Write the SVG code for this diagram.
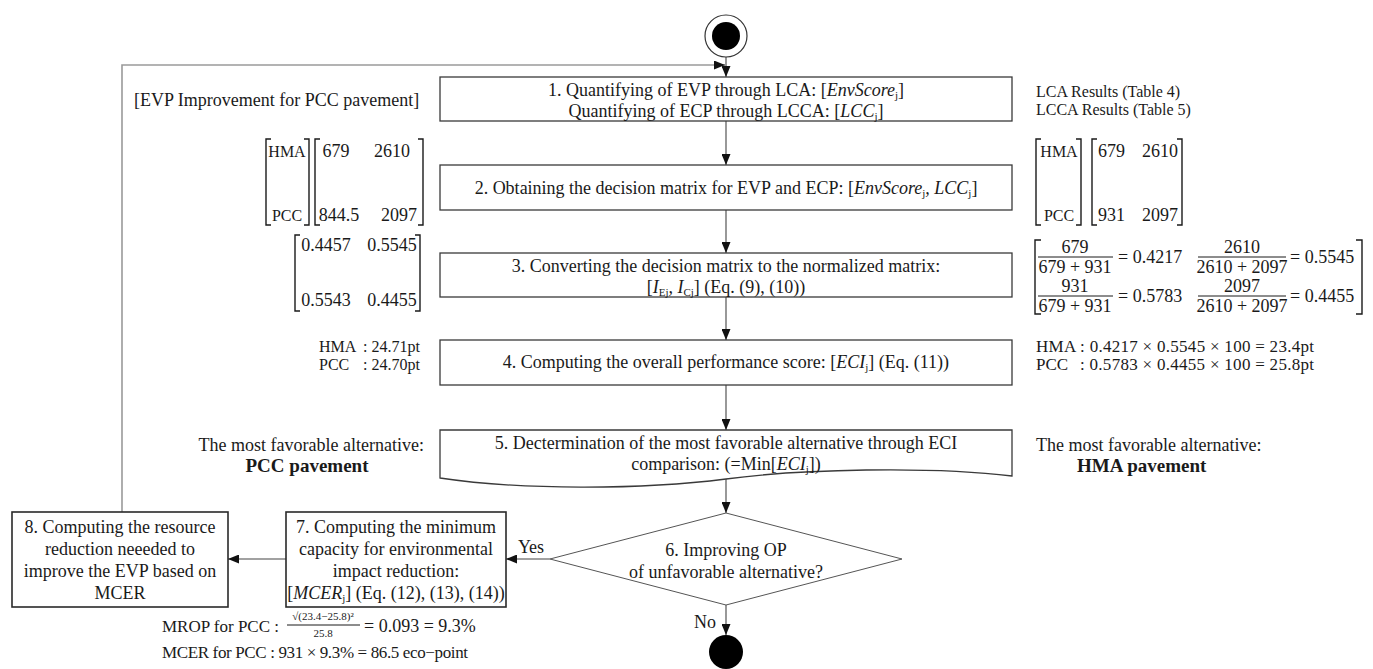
<svg xmlns="http://www.w3.org/2000/svg" width="1373" height="669" viewBox="0 0 1373 669">
<defs>
<marker id="ah" markerUnits="userSpaceOnUse" markerWidth="11" markerHeight="9" refX="11" refY="4.5" orient="auto"><path d="M0,0 L11,4.5 L0,9 z" fill="#111"/></marker>
<style>
text{font-family:"Liberation Serif","Times New Roman",serif;fill:#1a1a1a}
.t{font-size:18px}
.c{text-anchor:middle}
.e{text-anchor:end}
.a{font-size:16px}
.m{font-size:18px}
.s{font-size:17px}
.i{font-style:italic}
.b{font-weight:bold;font-size:19px}
.box{fill:#fff;stroke:#3a3a3a;stroke-width:1.3}
.box2{fill:#fff;stroke:#2a2a2a;stroke-width:1.6}
.ln{fill:none;stroke:#444;stroke-width:1.1}
.fb{fill:none;stroke:#9a9a9a;stroke-width:1.6}
.br{fill:none;stroke:#1a1a1a;stroke-width:1.4}
.fr{stroke:#1a1a1a;stroke-width:1}
</style>
</defs>
<rect width="1373" height="669" fill="#fff"/>

<g id="connectors">
<path class="fb" d="M122,512 V65 H716"/>
<path class="ln" d="M716,65 H725" marker-end="url(#ah)"/>
<path class="ln" d="M726,57 V77" marker-end="url(#ah)"/>
<path class="ln" d="M726,121 V165" marker-end="url(#ah)"/>
<path class="ln" d="M726,210 V253" marker-end="url(#ah)"/>
<path class="ln" d="M726,297 V340" marker-end="url(#ah)"/>
<path class="ln" d="M726,385 V430" marker-end="url(#ah)"/>
<path class="ln" d="M726,479 V513" marker-end="url(#ah)"/>
<path class="ln" d="M550,559 H506" marker-end="url(#ah)"/>
<path class="ln" d="M286,559 H228" marker-end="url(#ah)"/>
<path class="ln" d="M726,605 V635" marker-end="url(#ah)"/>
<text class="t c" x="531" y="553">Yes</text>
<text class="t e" x="716" y="628">No</text>
</g>

<g id="start">
<circle cx="726" cy="36" r="21" fill="#fff" stroke="#333" stroke-width="1.2"/>
<circle cx="726" cy="36" r="14" fill="#000"/>
</g>

<g id="step1">
<rect class="box" x="440" y="77" width="572" height="44"/>
<text class="t c" x="726" y="96">1. Quantifying of EVP through LCA: [<tspan class="i">EnvScore</tspan><tspan font-size="11" dy="3">j</tspan><tspan dy="-3">]</tspan></text>
<text class="t c" x="726" y="117">Quantifying of ECP through LCCA: [<tspan class="i">LCC</tspan><tspan font-size="11" dy="3">j</tspan><tspan dy="-3">]</tspan></text>
</g>

<g id="step2">
<rect class="box" x="440" y="165" width="572" height="45"/>
<text class="t c" x="726" y="194">2. Obtaining the decision matrix for EVP and ECP: [<tspan class="i">EnvScore</tspan><tspan font-size="11" dy="3">j</tspan><tspan class="i" dy="-3">, LCC</tspan><tspan font-size="11" dy="3">j</tspan><tspan dy="-3">]</tspan></text>
</g>

<g id="step3">
<rect class="box" x="440" y="253" width="572" height="44"/>
<text class="t c" x="726" y="272">3. Converting the decision matrix to the normalized matrix:</text>
<text class="t c" x="726" y="293">[<tspan class="i">I</tspan><tspan font-size="11" dy="3">Ej</tspan><tspan class="i" dy="-3">, I</tspan><tspan font-size="11" dy="3">Cj</tspan><tspan dy="-3">] (Eq. (9), (10))</tspan></text>
</g>

<g id="step4">
<rect class="box" x="440" y="340" width="572" height="45"/>
<text class="t c" x="726" y="368">4. Computing the overall performance score: [<tspan class="i">ECI</tspan><tspan font-size="11" dy="3">j</tspan><tspan dy="-3">] (Eq. (11))</tspan></text>
</g>

<g id="step5">
<path class="box" d="M440,430 H1012 V476 C930,466 800,469 726,479 C640,490 520,490 440,478 Z"/>
<text class="t c" x="726" y="449">5. Dectermination of the most favorable alternative through ECI</text>
<text class="t c" x="726" y="470">comparison: (=Min[<tspan class="i">ECI</tspan><tspan font-size="11" dy="3">j</tspan><tspan dy="-3">])</tspan></text>
</g>

<g id="step6">
<polygon points="726,513 902,559 726,605 550,559" fill="#fff" stroke="#555" stroke-width="1"/>
<text class="t c" x="726" y="556">6. Improving OP</text>
<text class="t c" x="726" y="578">of unfavorable alternative?</text>
</g>

<g id="step7">
<rect class="box2" x="286" y="512" width="220" height="95"/>
<text class="t c" x="396" y="533">7. Computing the minimum</text>
<text class="t c" x="396" y="555">capacity for environmental</text>
<text class="t c" x="396" y="577">impact reduction:</text>
<text class="t c" x="396" y="599">[<tspan class="i">MCER</tspan><tspan font-size="11" dy="3">j</tspan><tspan dy="-3">] (Eq. (12), (13), (14))</tspan></text>
</g>

<g id="step8">
<rect class="box2" x="12" y="512" width="216" height="95"/>
<text class="t c" x="120" y="533">8. Computing the resource</text>
<text class="t c" x="120" y="555">reduction neeeded to</text>
<text class="t c" x="120" y="577">improve the EVP based on</text>
<text class="t c" x="120" y="599">MCER</text>
</g>

<g id="end">
<circle cx="726" cy="652" r="17" fill="#000"/>
</g>

<g id="annotations">
<text class="t" x="134" y="106">[EVP Improvement for PCC pavement]</text>
<text class="a" x="1036" y="97">LCA Results (Table 4)</text>
<text class="a" x="1036" y="115">LCCA Results (Table 5)</text>

<path class="br" d="M271,139 H266 V225 H271 M304,139 H309 V225 H304 M320,139 H315 V225 H320 M418,139 H423 V225 H418"/>
<text class="a c" x="287" y="157">HMA</text>
<text class="a c" x="287" y="221">PCC</text>
<text class="m c" x="336" y="157">679</text>
<text class="m c" x="392" y="157">2610</text>
<text class="m c" x="339" y="221">844.5</text>
<text class="m c" x="399" y="221">2097</text>

<path class="br" d="M1041,139 H1036 V225 H1041 M1076,139 H1081 V225 H1076 M1097,139 H1092 V225 H1097 M1177,139 H1182 V225 H1177"/>
<text class="a c" x="1059" y="157">HMA</text>
<text class="a c" x="1059" y="221">PCC</text>
<text class="m" x="1098" y="157">679</text>
<text class="m" x="1142" y="157">2610</text>
<text class="m" x="1098" y="221">931</text>
<text class="m" x="1142" y="221">2097</text>

<path class="br" d="M300,235 H295 V311 H300 M415,235 H420 V311 H415"/>
<text class="m c" x="326" y="251">0.4457</text>
<text class="m c" x="392" y="251">0.5545</text>
<text class="m c" x="326" y="306">0.5543</text>
<text class="m c" x="392" y="306">0.4455</text>

<path class="br" d="M1041,240 H1035 V314 H1041 M1356,240 H1362 V314 H1356"/>
<line class="fr" x1="1038" y1="257" x2="1113" y2="257"/>
<line class="fr" x1="1198" y1="257" x2="1286" y2="257"/>
<line class="fr" x1="1038" y1="296" x2="1113" y2="296"/>
<line class="fr" x1="1198" y1="296" x2="1286" y2="296"/>
<text class="m c" x="1075" y="253">679</text>
<text class="m c" x="1075" y="273">679 + 931</text>
<text class="m" x="1118" y="263">= 0.4217</text>
<text class="m c" x="1242" y="253">2610</text>
<text class="m c" x="1242" y="273">2610 + 2097</text>
<text class="m" x="1290" y="263">= 0.5545</text>
<text class="m c" x="1075" y="292">931</text>
<text class="m c" x="1075" y="312">679 + 931</text>
<text class="m" x="1118" y="302">= 0.5783</text>
<text class="m c" x="1242" y="292">2097</text>
<text class="m c" x="1242" y="312">2610 + 2097</text>
<text class="m" x="1290" y="302">= 0.4455</text>

<text class="a" x="319" y="352">HMA</text>
<text class="a e" x="420" y="352">: 24.71pt</text>
<text class="a" x="319" y="370">PCC</text>
<text class="a e" x="420" y="370">: 24.70pt</text>
<text class="s" x="1036" y="352" textLength="278">HMA : 0.4217 × 0.5545 × 100 = 23.4pt</text>
<text class="s" x="1036" y="370">PCC</text>
<text class="s" x="1080" y="370" textLength="234">: 0.5783 × 0.4455 × 100 = 25.8pt</text>

<text class="t e" x="424" y="451">The most favorable alternative:</text>
<text class="b c" x="307" y="472">PCC pavement</text>
<text class="t" x="1036" y="451">The most favorable alternative:</text>
<text class="b" x="1077" y="472">HMA pavement</text>

<text class="s" x="162" y="632">MROP for PCC :</text>
<text x="323" y="620" font-size="11" text-anchor="middle">√(23.4−25.8)²</text>
<line class="fr" x1="287" y1="625" x2="360" y2="625"/>
<text x="323" y="637" font-size="11" text-anchor="middle">25.8</text>
<text class="m" x="364" y="632">= 0.093 = 9.3%</text>
<text class="s" x="162" y="658" textLength="306">MCER for PCC : 931 × 9.3% = 86.5 eco−point</text>
</g>
</svg>
